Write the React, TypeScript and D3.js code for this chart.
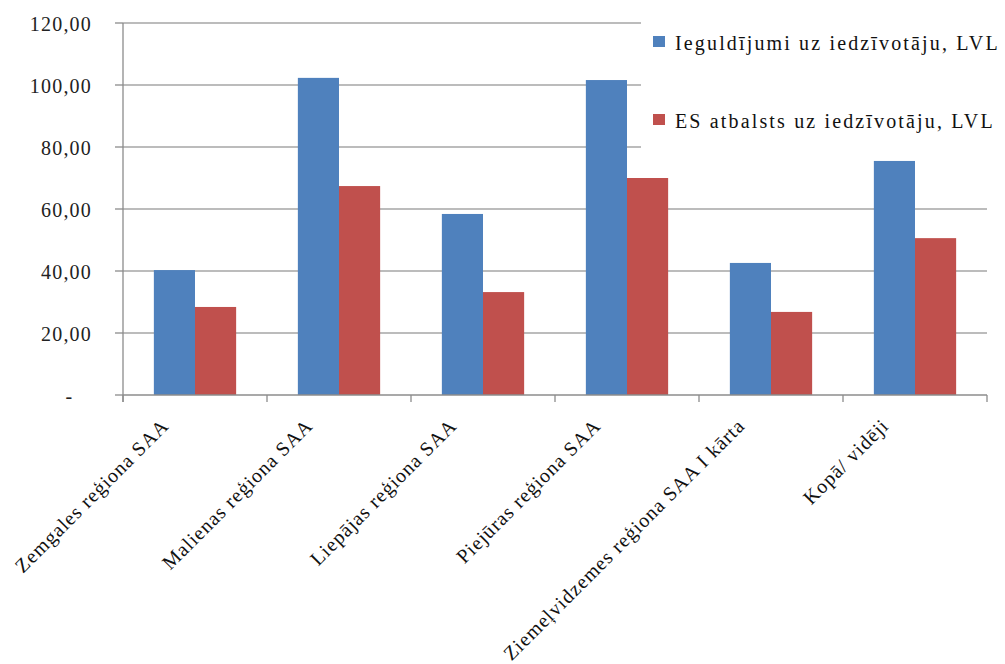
import React from "react";
import * as d3 from "d3";

// Per-capita figures for each planning region (LVL)
const categories = [
  "Zemgales reģiona SAA",
  "Malienas reģiona SAA",
  "Liepājas reģiona SAA",
  "Piejūras reģiona SAA",
  "Ziemeļvidzemes reģiona SAA I kārta",
  "Kopā/ vidēji",
];
const seriesNames = ["Ieguldījumi uz iedzīvotāju, LVL", "ES atbalsts uz iedzīvotāju, LVL"];
const investment = [40.3, 102.3, 58.4, 101.6, 42.6, 75.5];
const euSupport = [28.4, 67.4, 33.2, 70.0, 26.8, 50.6];
const yTicks = [0, 20, 40, 60, 80, 100, 120];
const yTickLabels = ["-   ", "20,00", "40,00", "60,00", "80,00", "100,00", "120,00"];

const colors = ["#4F81BD", "#C0504D"];
const FONT = "Liberation Serif, Noto Serif, DejaVu Serif, serif";

const W = 1005;
const H = 664;
const plot = { left: 123, right: 987, top: 23, bottom: 395 };

export default function App() {
  const x0 = d3
    .scaleBand<string>()
    .domain(categories)
    .range([plot.left, plot.right])
    .paddingInner(0.4286)
    .paddingOuter(0.2143);
  const x1 = d3.scaleBand<number>().domain([0, 1]).range([0, x0.bandwidth()]);
  const y = d3.scaleLinear().domain([0, 120]).range([plot.bottom, plot.top]);
  const series = [investment, euSupport];
  const step = x0.step();

  return (
    <svg
      width={W}
      height={H}
      style={{ position: "absolute", left: 0, top: 0, background: "#fff", fontFamily: FONT }}
    >
      <rect x={0} y={0} width={W} height={H} fill="#fff" />
      {/* horizontal gridlines */}
      {yTicks.slice(1).map((t) => (
        <line
          key={"g" + t}
          x1={plot.left}
          x2={plot.right}
          y1={y(t)}
          y2={y(t)}
          stroke="#a6a6a6"
          strokeWidth={1.3}
        />
      ))}
      {/* legend background sits over the gridlines, under the bars */}
      <rect x={641} y={12} width={364} height={143} fill="#fff" />
      {/* bars */}
      {categories.map((c, i) => (
        <g key={c}>
          {series.map((s, k) => (
            <rect
              key={k}
              x={(x0(c) ?? 0) + (x1(k) ?? 0)}
              y={y(s[i])}
              width={x1.bandwidth()}
              height={y(0) - y(s[i])}
              fill={colors[k]}
            />
          ))}
        </g>
      ))}
      {/* value axis */}
      <line x1={plot.left} x2={plot.left} y1={plot.top} y2={plot.bottom + 7} stroke="#8c8c8c" strokeWidth={1.3} />
      {yTicks.map((t, i) => (
        <g key={"yt" + t}>
          <line x1={plot.left - 8} x2={plot.left} y1={y(t)} y2={y(t)} stroke="#8c8c8c" strokeWidth={1.3} />
          <text
            x={92}
            y={y(t) + 8}
            textAnchor="end"
            fontSize={20}
            letterSpacing={1.2}
            fill="#222"
            style={{ whiteSpace: "pre" }}
          >
            {yTickLabels[i]}
          </text>
        </g>
      ))}
      {/* category axis */}
      <line x1={plot.left} x2={plot.right} y1={plot.bottom} y2={plot.bottom} stroke="#8c8c8c" strokeWidth={1.3} />
      {d3.range(categories.length + 1).map((i) => (
        <line
          key={"xt" + i}
          x1={plot.left + i * step}
          x2={plot.left + i * step}
          y1={plot.bottom}
          y2={plot.bottom + 7}
          stroke="#8c8c8c"
          strokeWidth={1.3}
        />
      ))}
      {categories.map((c) => {
        const cx = (x0(c) ?? 0) + x0.bandwidth() / 2 - 25;
        const cy = 427;
        return (
          <text
            key={"lbl" + c}
            x={cx}
            y={cy}
            textAnchor="end"
            transform={`rotate(-45, ${cx}, ${cy})`}
            fontSize={20}
            letterSpacing={1.0}
            fill="#111"
          >
            {c}
          </text>
        );
      })}
      {/* legend */}
      {seriesNames.map((n, k) => (
        <g key={n}>
          <rect x={653} y={36 + k * 78} width={12} height={11} fill={colors[k]} />
          <text x={675} y={50 + k * 78} fontSize={20} letterSpacing={2.15} fill="#111">
            {n}
          </text>
        </g>
      ))}
    </svg>
  );
}
